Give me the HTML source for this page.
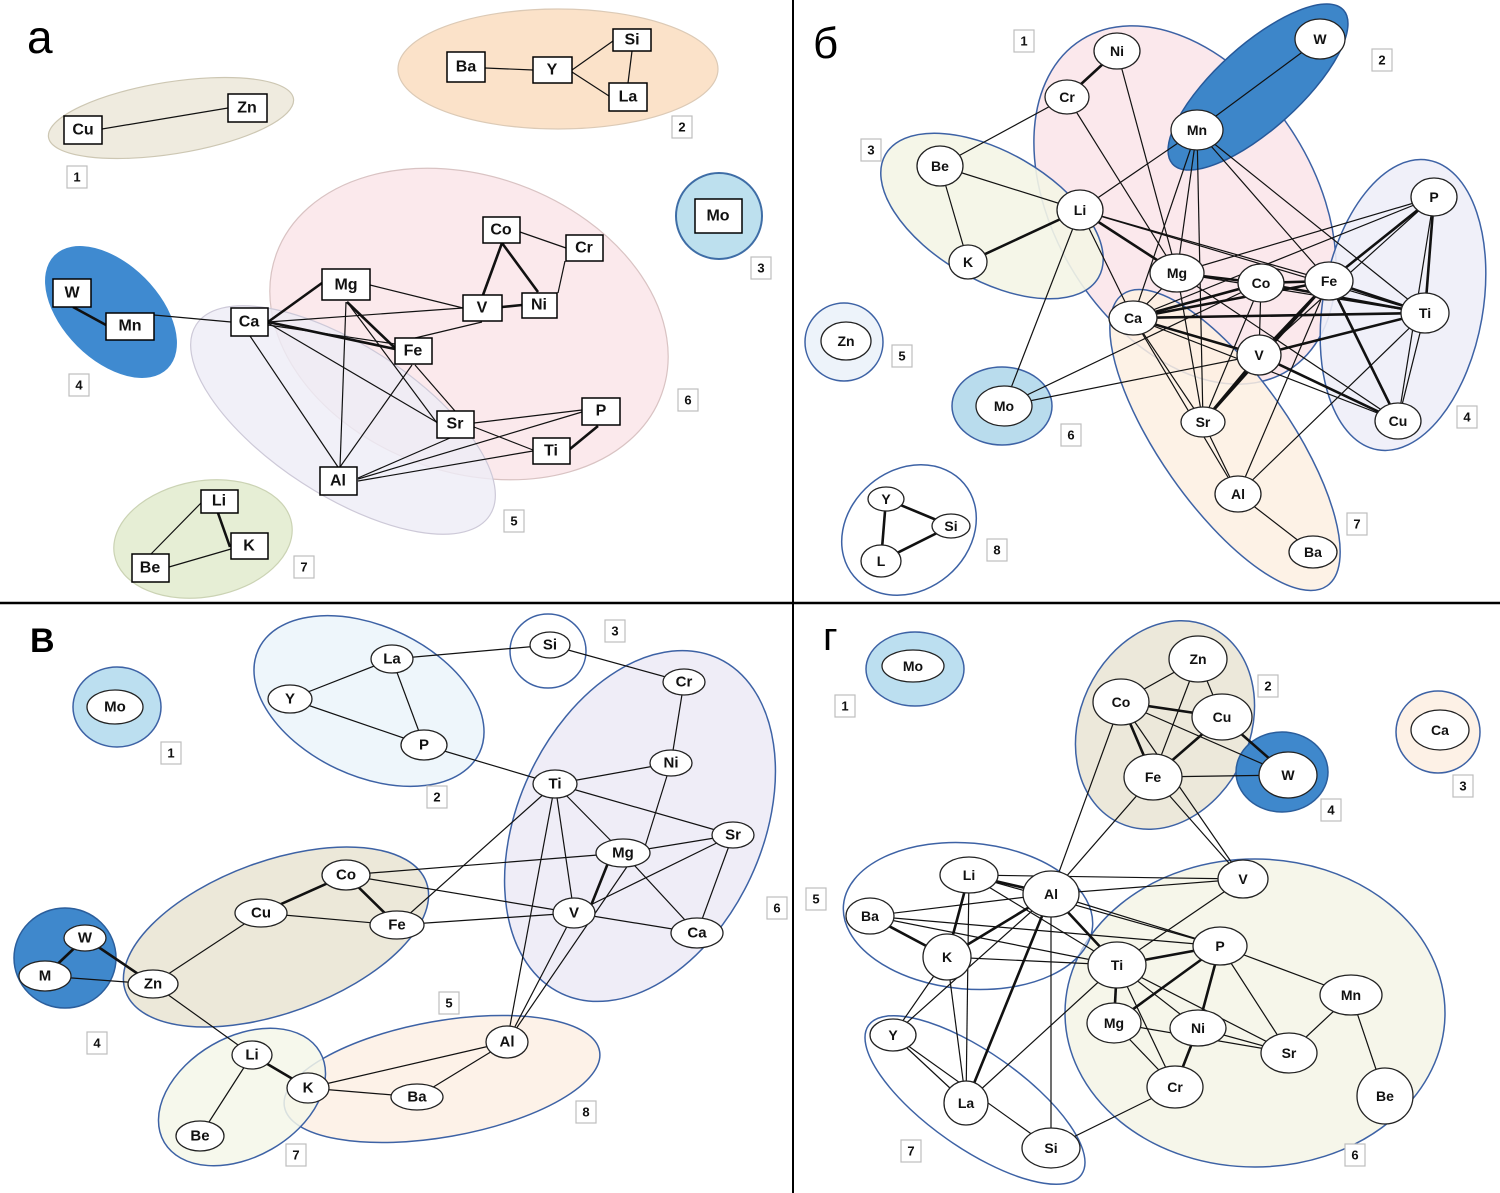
<!DOCTYPE html>
<html><head><meta charset="utf-8">
<style>
html,body{margin:0;padding:0;background:#fff;}
svg{display:block;}
.e{stroke:#111;stroke-width:1.2;fill:none}
.t{stroke:#111;stroke-width:2.6;fill:none}
.b{fill:#fff;stroke:#000;stroke-width:1.5}
.n{fill:#fff;stroke:#222;stroke-width:1.3}
text{font-family:"Liberation Sans",sans-serif;text-anchor:middle;dominant-baseline:central;fill:#111}
.ta{font-size:16px;font-weight:bold}
.tn{font-size:14px;font-weight:bold}
.tv{font-size:15px;font-weight:bold}
.lr{fill:#fff;stroke:#bdbdbd;stroke-width:1.2}
.lt{font-size:13px;font-weight:bold}
.big{text-anchor:start;dominant-baseline:auto;fill:#000}
</style></head>
<body>
<svg width="1500" height="1193" viewBox="0 0 1500 1193" xmlns="http://www.w3.org/2000/svg">
<rect x="0" y="0" width="1500" height="1193" fill="#fff"/>

<!-- ================= QUADRANT а ================= -->
<text class="big" x="27" y="53" font-size="46">а</text>
<ellipse cx="171" cy="118" rx="124" ry="36" transform="rotate(-9 171 118)" fill="#efebdf" stroke="#cdc7b3" stroke-width="1.2"/>
<ellipse cx="558" cy="69" rx="160" ry="60" fill="#fbe2c9" stroke="#dccab6" stroke-width="1.2"/>
<circle cx="719" cy="216" r="43" fill="#bde0ee" stroke="#3e6da6" stroke-width="2"/>
<ellipse cx="469" cy="324" rx="205" ry="148" transform="rotate(20 469 324)" fill="#fbe9ec" stroke="#d9c3c3" stroke-width="1.2"/>
<ellipse cx="343" cy="420" rx="175" ry="75" transform="rotate(33 343 420)" fill="#eeecf6" fill-opacity="0.8" stroke="#cdc9d8" stroke-width="1.2"/>
<ellipse cx="111" cy="312" rx="80" ry="48" transform="rotate(45 111 312)" fill="#3f8ad0"/>
<ellipse cx="203" cy="539" rx="90" ry="58" transform="rotate(-10 203 539)" fill="#e6eed5" stroke="#cbd3b4" stroke-width="1.2"/>

<g>
<line class="e" x1="102" y1="129" x2="228" y2="108"/>
<line class="e" x1="485" y1="68" x2="533" y2="70"/>
<line class="e" x1="572" y1="70" x2="613" y2="41"/>
<line class="e" x1="572" y1="72" x2="609" y2="96"/>
<line class="e" x1="632" y1="51" x2="628" y2="83"/>
<line class="t" x1="73" y1="307" x2="106" y2="325"/>
<line class="e" x1="154" y1="315" x2="231" y2="322"/>
<line class="t" x1="268" y1="322" x2="322" y2="283"/>
<line class="e" x1="268" y1="322" x2="463" y2="308"/>
<line class="t" x1="268" y1="322" x2="395" y2="349"/>
<line class="e" x1="268" y1="325" x2="395" y2="344"/>
<line class="e" x1="268" y1="323" x2="438" y2="423"/>
<line class="e" x1="250" y1="336" x2="338" y2="467"/>
<line class="e" x1="370" y1="285" x2="463" y2="308"/>
<line class="t" x1="347" y1="302" x2="395" y2="348"/>
<line class="e" x1="347" y1="302" x2="437" y2="423"/>
<line class="e" x1="346" y1="302" x2="340" y2="467"/>
<line class="t" x1="502" y1="243" x2="483" y2="295"/>
<line class="t" x1="502" y1="243" x2="538" y2="292"/>
<line class="e" x1="520" y1="232" x2="566" y2="248"/>
<line class="e" x1="565" y1="261" x2="558" y2="293"/>
<line class="t" x1="502" y1="307" x2="522" y2="305"/>
<line class="e" x1="415" y1="338" x2="482" y2="322"/>
<line class="e" x1="415" y1="365" x2="455" y2="411"/>
<line class="e" x1="412" y1="365" x2="340" y2="467"/>
<line class="e" x1="474" y1="423" x2="582" y2="410"/>
<line class="e" x1="474" y1="427" x2="533" y2="450"/>
<line class="t" x1="598" y1="426" x2="570" y2="449"/>
<line class="e" x1="358" y1="478" x2="450" y2="438"/>
<line class="e" x1="358" y1="479" x2="582" y2="412"/>
<line class="e" x1="358" y1="481" x2="533" y2="451"/>
<line class="t" x1="218" y1="513" x2="230" y2="547"/>
<line class="e" x1="201" y1="503" x2="151" y2="554"/>
<line class="e" x1="169" y1="567" x2="231" y2="549"/>
</g>

<g>
<rect class="b" x="64" y="116" width="38" height="28"/><text class="ta" x="83" y="130">Cu</text>
<rect class="b" x="228" y="94" width="39" height="28"/><text class="ta" x="247" y="108">Zn</text>
<rect class="b" x="447" y="52" width="38" height="30"/><text class="ta" x="466" y="67">Ba</text>
<rect class="b" x="533" y="57" width="39" height="26"/><text class="ta" x="552" y="70">Y</text>
<rect class="b" x="613" y="29" width="38" height="22"/><text class="ta" x="632" y="40">Si</text>
<rect class="b" x="609" y="83" width="38" height="28"/><text class="ta" x="628" y="97">La</text>
<rect class="b" x="695" y="199" width="47" height="34"/><text class="ta" x="718" y="216">Mo</text>
<rect class="b" x="483" y="217" width="37" height="26"/><text class="ta" x="501" y="230">Co</text>
<rect class="b" x="566" y="235" width="37" height="26"/><text class="ta" x="584" y="248">Cr</text>
<rect class="b" x="322" y="269" width="48" height="31"/><text class="ta" x="346" y="285">Mg</text>
<rect class="b" x="463" y="295" width="39" height="26"/><text class="ta" x="482" y="308">V</text>
<rect class="b" x="522" y="293" width="35" height="25"/><text class="ta" x="539" y="305">Ni</text>
<rect class="b" x="231" y="308" width="37" height="28"/><text class="ta" x="249" y="322">Ca</text>
<rect class="b" x="395" y="338" width="37" height="26"/><text class="ta" x="413" y="351">Fe</text>
<rect class="b" x="437" y="411" width="37" height="27"/><text class="ta" x="455" y="424">Sr</text>
<rect class="b" x="582" y="398" width="38" height="27"/><text class="ta" x="601" y="411">P</text>
<rect class="b" x="533" y="438" width="37" height="26"/><text class="ta" x="551" y="451">Ti</text>
<rect class="b" x="320" y="467" width="37" height="28"/><text class="ta" x="338" y="481">Al</text>
<rect class="b" x="53" y="279" width="38" height="28"/><text class="ta" x="72" y="293">W</text>
<rect class="b" x="106" y="313" width="48" height="27"/><text class="ta" x="130" y="326">Mn</text>
<rect class="b" x="201" y="490" width="37" height="23"/><text class="ta" x="219" y="501">Li</text>
<rect class="b" x="231" y="533" width="37" height="26"/><text class="ta" x="249" y="546">K</text>
<rect class="b" x="132" y="554" width="37" height="28"/><text class="ta" x="150" y="568">Be</text>
</g>

<g>
<rect class="lr" x="67" y="166" width="20" height="22"/><text class="lt" x="77" y="177">1</text>
<rect class="lr" x="672" y="116" width="20" height="22"/><text class="lt" x="682" y="127">2</text>
<rect class="lr" x="751" y="257" width="20" height="22"/><text class="lt" x="761" y="268">3</text>
<rect class="lr" x="69" y="374" width="20" height="22"/><text class="lt" x="79" y="385">4</text>
<rect class="lr" x="504" y="510" width="20" height="22"/><text class="lt" x="514" y="521">5</text>
<rect class="lr" x="678" y="389" width="20" height="22"/><text class="lt" x="688" y="400">6</text>
<rect class="lr" x="294" y="556" width="20" height="22"/><text class="lt" x="304" y="567">7</text>
</g>

<!-- ================= QUADRANT б ================= -->
<text class="big" x="813" y="58" font-size="44">б</text>
<ellipse cx="1185" cy="205" rx="195" ry="130" transform="rotate(58 1185 205)" fill="#fbe8ec" stroke="#3d62a5" stroke-width="1.5"/>
<ellipse cx="992" cy="216" rx="123" ry="64" transform="rotate(30 992 216)" fill="#f4f5e6" fill-opacity="0.9" stroke="#3d62a5" stroke-width="1.5"/>
<ellipse cx="1403" cy="305" rx="80" ry="147" transform="rotate(10 1403 305)" fill="#eeeef8" fill-opacity="0.9" stroke="#3d62a5" stroke-width="1.5"/>
<ellipse cx="1225" cy="440" rx="178" ry="65" transform="rotate(55 1225 440)" fill="#fdf0e2" fill-opacity="0.85" stroke="#3d62a5" stroke-width="1.5"/>
<ellipse cx="1258" cy="87" rx="115" ry="42" transform="rotate(-42 1258 87)" fill="#3d86c9" stroke="#27599a" stroke-width="1.5"/>
<circle cx="844" cy="342" r="39" fill="#edf3fa" stroke="#3d62a5" stroke-width="1.5"/>
<ellipse cx="1002" cy="406" rx="50" ry="39" fill="#b9dced" stroke="#3d62a5" stroke-width="1.5"/>
<ellipse cx="909" cy="530" rx="72" ry="60" transform="rotate(-40 909 530)" fill="#fff" stroke="#3d62a5" stroke-width="1.5"/>

<g>
<line class="e" x1="1117" y1="51" x2="1177" y2="273"/>
<line class="e" x1="1067" y1="97" x2="1177" y2="273"/>
<line class="e" x1="1067" y1="97" x2="940" y2="166"/>
<line class="e" x1="940" y1="166" x2="1080" y2="210"/>
<line class="e" x1="940" y1="166" x2="968" y2="262"/>
<line class="e" x1="1080" y1="210" x2="1197" y2="130"/>
<line class="e" x1="1080" y1="210" x2="1133" y2="318"/>
<line class="e" x1="1080" y1="210" x2="1425" y2="313"/>
<line class="e" x1="1080" y1="210" x2="1329" y2="281"/>
<line class="e" x1="1080" y1="210" x2="1004" y2="406"/>
<line class="e" x1="1320" y1="39" x2="1197" y2="130"/>
<line class="e" x1="1197" y1="130" x2="1177" y2="273"/>
<line class="e" x1="1197" y1="130" x2="1133" y2="318"/>
<line class="e" x1="1197" y1="130" x2="1203" y2="422"/>
<line class="e" x1="1197" y1="130" x2="1329" y2="281"/>
<line class="e" x1="1197" y1="130" x2="1425" y2="313"/>
<line class="e" x1="1434" y1="197" x2="1177" y2="273"/>
<line class="e" x1="1434" y1="197" x2="1133" y2="318"/>
<line class="e" x1="1434" y1="197" x2="1259" y2="355"/>
<line class="e" x1="1434" y1="197" x2="1398" y2="421"/>
<line class="e" x1="1177" y1="273" x2="1133" y2="318"/>
<line class="e" x1="1177" y1="273" x2="1425" y2="313"/>
<line class="e" x1="1177" y1="273" x2="1398" y2="421"/>
<line class="e" x1="1177" y1="273" x2="1203" y2="422"/>
<line class="e" x1="1261" y1="283" x2="1259" y2="355"/>
<line class="e" x1="1261" y1="283" x2="1203" y2="422"/>
<line class="e" x1="1329" y1="281" x2="1238" y2="494"/>
<line class="e" x1="1133" y1="318" x2="1398" y2="421"/>
<line class="e" x1="1133" y1="318" x2="1238" y2="494"/>
<line class="e" x1="1133" y1="318" x2="1203" y2="422"/>
<line class="e" x1="1203" y1="422" x2="1238" y2="494"/>
<line class="e" x1="1238" y1="494" x2="1313" y2="552"/>
<line class="e" x1="1238" y1="494" x2="1425" y2="313"/>
<line class="e" x1="1425" y1="313" x2="1398" y2="421"/>
<line class="e" x1="1004" y1="406" x2="1261" y2="283"/>
<line class="e" x1="1004" y1="406" x2="1259" y2="355"/>
<line class="t" x1="1117" y1="51" x2="1067" y2="97"/>
<line class="t" x1="968" y1="262" x2="1080" y2="210"/>
<line class="t" x1="1080" y1="210" x2="1177" y2="273"/>
<line class="t" x1="1434" y1="197" x2="1329" y2="281"/>
<line class="t" x1="1434" y1="197" x2="1425" y2="313"/>
<line class="t" x1="1177" y1="273" x2="1261" y2="283"/>
<line class="t" x1="1261" y1="283" x2="1329" y2="281"/>
<line class="t" x1="1261" y1="283" x2="1133" y2="318"/>
<line class="t" x1="1261" y1="283" x2="1425" y2="313"/>
<line class="t" x1="1329" y1="281" x2="1133" y2="318"/>
<line class="t" x1="1329" y1="281" x2="1425" y2="313"/>
<line class="t" x1="1329" y1="281" x2="1259" y2="355"/>
<line class="t" x1="1329" y1="281" x2="1203" y2="422"/>
<line class="t" x1="1329" y1="281" x2="1398" y2="421"/>
<line class="t" x1="1133" y1="318" x2="1425" y2="313"/>
<line class="t" x1="1133" y1="318" x2="1259" y2="355"/>
<line class="t" x1="1259" y1="355" x2="1425" y2="313"/>
<line class="t" x1="1259" y1="355" x2="1398" y2="421"/>
<line class="t" x1="1259" y1="355" x2="1203" y2="422"/>
<line class="t" x1="886" y1="499" x2="951" y2="526"/>
<line class="t" x1="886" y1="499" x2="881" y2="561"/>
<line class="t" x1="881" y1="561" x2="951" y2="526"/>
</g>

<g>
<ellipse class="n" cx="1117" cy="51" rx="23" ry="18"/><text class="tn" x="1117" y="51">Ni</text>
<ellipse class="n" cx="1067" cy="97" rx="22" ry="17"/><text class="tn" x="1067" y="97">Cr</text>
<ellipse class="n" cx="1320" cy="39" rx="25" ry="20"/><text class="tn" x="1320" y="39">W</text>
<ellipse class="n" cx="1197" cy="130" rx="26" ry="20"/><text class="tn" x="1197" y="130">Mn</text>
<ellipse class="n" cx="940" cy="166" rx="23" ry="20"/><text class="tn" x="940" y="166">Be</text>
<ellipse class="n" cx="1080" cy="210" rx="23" ry="20"/><text class="tn" x="1080" y="210">Li</text>
<ellipse class="n" cx="968" cy="262" rx="19" ry="17"/><text class="tn" x="968" y="262">K</text>
<ellipse class="n" cx="1177" cy="273" rx="27" ry="19"/><text class="tn" x="1177" y="273">Mg</text>
<ellipse class="n" cx="1261" cy="283" rx="23" ry="19"/><text class="tn" x="1261" y="283">Co</text>
<ellipse class="n" cx="1329" cy="281" rx="24" ry="19"/><text class="tn" x="1329" y="281">Fe</text>
<ellipse class="n" cx="1434" cy="197" rx="23" ry="19"/><text class="tn" x="1434" y="197">P</text>
<ellipse class="n" cx="1425" cy="313" rx="24" ry="20"/><text class="tn" x="1425" y="313">Ti</text>
<ellipse class="n" cx="1133" cy="318" rx="24" ry="17"/><text class="tn" x="1133" y="318">Ca</text>
<ellipse class="n" cx="1259" cy="355" rx="22" ry="20"/><text class="tn" x="1259" y="355">V</text>
<ellipse class="n" cx="1203" cy="422" rx="22" ry="15"/><text class="tn" x="1203" y="422">Sr</text>
<ellipse class="n" cx="1398" cy="421" rx="23" ry="18"/><text class="tn" x="1398" y="421">Cu</text>
<ellipse class="n" cx="1238" cy="494" rx="23" ry="18"/><text class="tn" x="1238" y="494">Al</text>
<ellipse class="n" cx="1313" cy="552" rx="24" ry="16"/><text class="tn" x="1313" y="552">Ba</text>
<ellipse class="n" cx="846" cy="341" rx="25" ry="19"/><text class="tn" x="846" y="341">Zn</text>
<ellipse class="n" cx="1004" cy="406" rx="28" ry="20"/><text class="tn" x="1004" y="406">Mo</text>
<ellipse class="n" cx="886" cy="499" rx="18" ry="12"/><text class="tn" x="886" y="499">Y</text>
<ellipse class="n" cx="951" cy="526" rx="19" ry="12"/><text class="tn" x="951" y="526">Si</text>
<ellipse class="n" cx="881" cy="561" rx="20" ry="16"/><text class="tn" x="881" y="561">L</text>
</g>

<g>
<rect class="lr" x="1014" y="30" width="20" height="22"/><text class="lt" x="1024" y="41">1</text>
<rect class="lr" x="1372" y="49" width="20" height="22"/><text class="lt" x="1382" y="60">2</text>
<rect class="lr" x="861" y="139" width="20" height="22"/><text class="lt" x="871" y="150">3</text>
<rect class="lr" x="1457" y="406" width="20" height="22"/><text class="lt" x="1467" y="417">4</text>
<rect class="lr" x="892" y="345" width="20" height="22"/><text class="lt" x="902" y="356">5</text>
<rect class="lr" x="1061" y="424" width="20" height="22"/><text class="lt" x="1071" y="435">6</text>
<rect class="lr" x="1347" y="513" width="20" height="22"/><text class="lt" x="1357" y="524">7</text>
<rect class="lr" x="987" y="539" width="20" height="22"/><text class="lt" x="997" y="550">8</text>
</g>

<!-- ================= QUADRANT в ================= -->
<text class="big" x="30" y="652" font-size="34" font-weight="bold">В</text>
<ellipse cx="117" cy="707" rx="44" ry="40" fill="#bcdff0" stroke="#3d62a5" stroke-width="1.5"/>
<ellipse cx="369" cy="701" rx="122" ry="75" transform="rotate(25 369 701)" fill="#eef6fb" stroke="#3d62a5" stroke-width="1.5"/>
<ellipse cx="548" cy="651" rx="38" ry="37" fill="#fff" stroke="#3d62a5" stroke-width="1.5"/>
<ellipse cx="640" cy="826" rx="122" ry="185" transform="rotate(25 640 826)" fill="#efedf7" stroke="#3d62a5" stroke-width="1.5"/>
<ellipse cx="276" cy="937" rx="160" ry="76" transform="rotate(-20 276 937)" fill="#ece8d9" stroke="#3d62a5" stroke-width="1.5"/>
<ellipse cx="65" cy="958" rx="51" ry="50" fill="#3f88cc" stroke="#2b5e9c" stroke-width="1.5"/>
<ellipse cx="442" cy="1079" rx="160" ry="58" transform="rotate(-10 442 1079)" fill="#fdf2e8" stroke="#3d62a5" stroke-width="1.5"/>
<ellipse cx="242" cy="1097" rx="90" ry="60" transform="rotate(-30 242 1097)" fill="#f5f7e9" fill-opacity="0.85" stroke="#3d62a5" stroke-width="1.5"/>

<g>
<line class="e" x1="392" y1="659" x2="550" y2="645"/>
<line class="e" x1="392" y1="659" x2="290" y2="699"/>
<line class="e" x1="392" y1="659" x2="424" y2="745"/>
<line class="e" x1="290" y1="699" x2="424" y2="745"/>
<line class="e" x1="424" y1="745" x2="555" y2="784"/>
<line class="e" x1="550" y1="645" x2="684" y2="682"/>
<line class="e" x1="684" y1="682" x2="671" y2="763"/>
<line class="e" x1="671" y1="763" x2="555" y2="784"/>
<line class="e" x1="671" y1="763" x2="643" y2="853"/>
<line class="e" x1="555" y1="784" x2="733" y2="835"/>
<line class="e" x1="555" y1="784" x2="623" y2="853"/>
<line class="e" x1="555" y1="784" x2="574" y2="913"/>
<line class="e" x1="555" y1="784" x2="507" y2="1042"/>
<line class="e" x1="555" y1="784" x2="397" y2="925"/>
<line class="e" x1="623" y1="853" x2="733" y2="835"/>
<line class="e" x1="623" y1="853" x2="697" y2="933"/>
<line class="e" x1="635" y1="855" x2="507" y2="1042"/>
<line class="e" x1="733" y1="835" x2="574" y2="913"/>
<line class="e" x1="733" y1="835" x2="697" y2="933"/>
<line class="e" x1="574" y1="913" x2="697" y2="933"/>
<line class="e" x1="574" y1="913" x2="507" y2="1042"/>
<line class="e" x1="346" y1="875" x2="623" y2="853"/>
<line class="e" x1="346" y1="875" x2="574" y2="913"/>
<line class="e" x1="397" y1="925" x2="574" y2="913"/>
<line class="e" x1="261" y1="913" x2="397" y2="925"/>
<line class="e" x1="261" y1="913" x2="153" y2="984"/>
<line class="e" x1="45" y1="976" x2="153" y2="984"/>
<line class="e" x1="153" y1="984" x2="252" y2="1055"/>
<line class="e" x1="252" y1="1055" x2="200" y2="1136"/>
<line class="e" x1="308" y1="1088" x2="417" y2="1097"/>
<line class="e" x1="308" y1="1088" x2="507" y2="1042"/>
<line class="e" x1="417" y1="1097" x2="507" y2="1042"/>
<line class="t" x1="612" y1="853" x2="588" y2="913"/>
<line class="t" x1="346" y1="875" x2="261" y2="913"/>
<line class="t" x1="346" y1="875" x2="397" y2="925"/>
<line class="t" x1="85" y1="938" x2="153" y2="984"/>
<line class="t" x1="85" y1="938" x2="45" y2="976"/>
<line class="t" x1="252" y1="1055" x2="308" y2="1088"/>
</g>

<g>
<ellipse class="n" cx="115" cy="707" rx="28" ry="17"/><text class="tv" x="115" y="707">Mo</text>
<ellipse class="n" cx="392" cy="659" rx="21" ry="14"/><text class="tv" x="392" y="659">La</text>
<ellipse class="n" cx="290" cy="699" rx="22" ry="14"/><text class="tv" x="290" y="699">Y</text>
<ellipse class="n" cx="424" cy="745" rx="23" ry="15"/><text class="tv" x="424" y="745">P</text>
<ellipse class="n" cx="550" cy="645" rx="20" ry="13"/><text class="tv" x="550" y="645">Si</text>
<ellipse class="n" cx="684" cy="682" rx="21" ry="13"/><text class="tv" x="684" y="682">Cr</text>
<ellipse class="n" cx="671" cy="763" rx="21" ry="13"/><text class="tv" x="671" y="763">Ni</text>
<ellipse class="n" cx="555" cy="784" rx="22" ry="14"/><text class="tv" x="555" y="784">Ti</text>
<ellipse class="n" cx="623" cy="853" rx="27" ry="14"/><text class="tv" x="623" y="853">Mg</text>
<ellipse class="n" cx="733" cy="835" rx="21" ry="13"/><text class="tv" x="733" y="835">Sr</text>
<ellipse class="n" cx="574" cy="913" rx="21" ry="15"/><text class="tv" x="574" y="913">V</text>
<ellipse class="n" cx="697" cy="933" rx="26" ry="15"/><text class="tv" x="697" y="933">Ca</text>
<ellipse class="n" cx="346" cy="875" rx="24" ry="15"/><text class="tv" x="346" y="875">Co</text>
<ellipse class="n" cx="261" cy="913" rx="26" ry="14"/><text class="tv" x="261" y="913">Cu</text>
<ellipse class="n" cx="397" cy="925" rx="27" ry="14"/><text class="tv" x="397" y="925">Fe</text>
<ellipse class="n" cx="85" cy="938" rx="21" ry="13"/><text class="tv" x="85" y="938">W</text>
<ellipse class="n" cx="45" cy="976" rx="26" ry="15"/><text class="tv" x="45" y="976">M</text>
<ellipse class="n" cx="153" cy="984" rx="25" ry="14"/><text class="tv" x="153" y="984">Zn</text>
<ellipse class="n" cx="252" cy="1055" rx="20" ry="14"/><text class="tv" x="252" y="1055">Li</text>
<ellipse class="n" cx="308" cy="1088" rx="21" ry="15"/><text class="tv" x="308" y="1088">K</text>
<ellipse class="n" cx="417" cy="1097" rx="26" ry="13"/><text class="tv" x="417" y="1097">Ba</text>
<ellipse class="n" cx="507" cy="1042" rx="21" ry="16"/><text class="tv" x="507" y="1042">Al</text>
<ellipse class="n" cx="200" cy="1136" rx="24" ry="15"/><text class="tv" x="200" y="1136">Be</text>
</g>

<g>
<rect class="lr" x="161" y="742" width="20" height="22"/><text class="lt" x="171" y="753">1</text>
<rect class="lr" x="427" y="786" width="20" height="22"/><text class="lt" x="437" y="797">2</text>
<rect class="lr" x="605" y="620" width="20" height="22"/><text class="lt" x="615" y="631">3</text>
<rect class="lr" x="87" y="1032" width="20" height="22"/><text class="lt" x="97" y="1043">4</text>
<rect class="lr" x="439" y="992" width="20" height="22"/><text class="lt" x="449" y="1003">5</text>
<rect class="lr" x="767" y="897" width="20" height="22"/><text class="lt" x="777" y="908">6</text>
<rect class="lr" x="286" y="1144" width="20" height="22"/><text class="lt" x="296" y="1155">7</text>
<rect class="lr" x="576" y="1101" width="20" height="22"/><text class="lt" x="586" y="1112">8</text>
</g>

<!-- ================= QUADRANT г ================= -->
<text class="big" x="823" y="650" font-size="40">г</text>
<ellipse cx="915" cy="669" rx="49" ry="37" fill="#bcdff0" stroke="#3d62a5" stroke-width="1.5"/>
<ellipse cx="1165" cy="725" rx="85" ry="108" transform="rotate(25 1165 725)" fill="#ece8da" stroke="#3d62a5" stroke-width="1.5"/>
<ellipse cx="1282" cy="772" rx="46" ry="40" fill="#3f88cc" stroke="#2b5e9c" stroke-width="1.5"/>
<ellipse cx="1438" cy="732" rx="42" ry="41" fill="#fdf1e6" stroke="#3d62a5" stroke-width="1.5"/>
<ellipse cx="1255" cy="1013" rx="190" ry="154" fill="#f6f6ea" stroke="#3d62a5" stroke-width="1.5"/>
<ellipse cx="968" cy="916" rx="125" ry="73" transform="rotate(5 968 916)" fill="#fff" fill-opacity="0.6" stroke="#3d62a5" stroke-width="1.5"/>
<ellipse cx="975" cy="1100" rx="130" ry="48" transform="rotate(35 975 1100)" fill="#fff" fill-opacity="0.6" stroke="#3d62a5" stroke-width="1.5"/>

<g>
<line class="e" x1="1198" y1="659" x2="1121" y2="702"/>
<line class="e" x1="1198" y1="659" x2="1222" y2="717"/>
<line class="e" x1="1198" y1="659" x2="1153" y2="777"/>
<line class="e" x1="1121" y1="702" x2="1288" y2="775"/>
<line class="e" x1="1121" y1="702" x2="1243" y2="879"/>
<line class="e" x1="1153" y1="777" x2="1288" y2="775"/>
<line class="e" x1="1153" y1="777" x2="1243" y2="879"/>
<line class="e" x1="1121" y1="702" x2="1051" y2="894"/>
<line class="e" x1="1153" y1="777" x2="1051" y2="894"/>
<line class="e" x1="969" y1="875" x2="1243" y2="879"/>
<line class="e" x1="969" y1="875" x2="966" y2="1103"/>
<line class="e" x1="969" y1="875" x2="1117" y2="965"/>
<line class="e" x1="969" y1="875" x2="1220" y2="946"/>
<line class="e" x1="870" y1="916" x2="1051" y2="894"/>
<line class="e" x1="870" y1="916" x2="1117" y2="965"/>
<line class="e" x1="870" y1="916" x2="1220" y2="946"/>
<line class="e" x1="947" y1="957" x2="1117" y2="965"/>
<line class="e" x1="947" y1="957" x2="966" y2="1103"/>
<line class="e" x1="947" y1="957" x2="893" y2="1035"/>
<line class="e" x1="1051" y1="894" x2="1243" y2="879"/>
<line class="e" x1="1051" y1="894" x2="893" y2="1035"/>
<line class="e" x1="1051" y1="894" x2="1051" y2="1148"/>
<line class="e" x1="1051" y1="894" x2="1220" y2="946"/>
<line class="e" x1="893" y1="1035" x2="966" y2="1103"/>
<line class="e" x1="893" y1="1035" x2="1051" y2="1148"/>
<line class="e" x1="966" y1="1103" x2="1117" y2="965"/>
<line class="e" x1="1175" y1="1087" x2="1051" y2="1148"/>
<line class="e" x1="1117" y1="965" x2="1198" y2="1028"/>
<line class="e" x1="1117" y1="965" x2="1175" y2="1087"/>
<line class="e" x1="1117" y1="965" x2="1289" y2="1053"/>
<line class="e" x1="1117" y1="965" x2="1243" y2="879"/>
<line class="e" x1="1220" y1="946" x2="1289" y2="1053"/>
<line class="e" x1="1220" y1="946" x2="1351" y2="995"/>
<line class="e" x1="1114" y1="1023" x2="1175" y2="1087"/>
<line class="e" x1="1114" y1="1023" x2="1289" y2="1053"/>
<line class="e" x1="1198" y1="1028" x2="1289" y2="1053"/>
<line class="e" x1="1351" y1="995" x2="1289" y2="1053"/>
<line class="e" x1="1351" y1="995" x2="1385" y2="1096"/>
<line class="t" x1="1121" y1="702" x2="1222" y2="717"/>
<line class="t" x1="1222" y1="717" x2="1153" y2="777"/>
<line class="t" x1="1121" y1="702" x2="1153" y2="777"/>
<line class="t" x1="1222" y1="717" x2="1288" y2="775"/>
<line class="t" x1="969" y1="875" x2="1051" y2="894"/>
<line class="t" x1="969" y1="875" x2="947" y2="957"/>
<line class="t" x1="870" y1="916" x2="947" y2="957"/>
<line class="t" x1="947" y1="957" x2="1051" y2="894"/>
<line class="t" x1="1051" y1="894" x2="1117" y2="965"/>
<line class="t" x1="1051" y1="894" x2="966" y2="1103"/>
<line class="t" x1="1117" y1="965" x2="1114" y2="1023"/>
<line class="t" x1="1117" y1="965" x2="1220" y2="946"/>
<line class="t" x1="1220" y1="946" x2="1114" y2="1023"/>
<line class="t" x1="1220" y1="946" x2="1198" y2="1028"/>
<line class="t" x1="1198" y1="1028" x2="1175" y2="1087"/>
</g>

<g>
<ellipse class="n" cx="913" cy="666" rx="31" ry="16"/><text class="tn" x="913" y="666">Mo</text>
<ellipse class="n" cx="1198" cy="659" rx="29" ry="23"/><text class="tn" x="1198" y="659">Zn</text>
<ellipse class="n" cx="1121" cy="702" rx="28" ry="23"/><text class="tn" x="1121" y="702">Co</text>
<ellipse class="n" cx="1222" cy="717" rx="30" ry="23"/><text class="tn" x="1222" y="717">Cu</text>
<ellipse class="n" cx="1153" cy="777" rx="29" ry="23"/><text class="tn" x="1153" y="777">Fe</text>
<ellipse class="n" cx="1288" cy="775" rx="29" ry="23"/><text class="tn" x="1288" y="775">W</text>
<ellipse class="n" cx="1440" cy="730" rx="29" ry="20"/><text class="tn" x="1440" y="730">Ca</text>
<ellipse class="n" cx="1243" cy="879" rx="25" ry="19"/><text class="tn" x="1243" y="879">V</text>
<ellipse class="n" cx="969" cy="875" rx="29" ry="18"/><text class="tn" x="969" y="875">Li</text>
<ellipse class="n" cx="1051" cy="894" rx="28" ry="23"/><text class="tn" x="1051" y="894">Al</text>
<ellipse class="n" cx="870" cy="916" rx="24" ry="18"/><text class="tn" x="870" y="916">Ba</text>
<ellipse class="n" cx="947" cy="957" rx="24" ry="23"/><text class="tn" x="947" y="957">K</text>
<ellipse class="n" cx="1117" cy="965" rx="29" ry="23"/><text class="tn" x="1117" y="965">Ti</text>
<ellipse class="n" cx="1220" cy="946" rx="27" ry="19"/><text class="tn" x="1220" y="946">P</text>
<ellipse class="n" cx="893" cy="1035" rx="23" ry="16"/><text class="tn" x="893" y="1035">Y</text>
<ellipse class="n" cx="1114" cy="1023" rx="27" ry="20"/><text class="tn" x="1114" y="1023">Mg</text>
<ellipse class="n" cx="1198" cy="1028" rx="28" ry="18"/><text class="tn" x="1198" y="1028">Ni</text>
<ellipse class="n" cx="966" cy="1103" rx="22" ry="22"/><text class="tn" x="966" y="1103">La</text>
<ellipse class="n" cx="1175" cy="1087" rx="28" ry="21"/><text class="tn" x="1175" y="1087">Cr</text>
<ellipse class="n" cx="1051" cy="1148" rx="29" ry="20"/><text class="tn" x="1051" y="1148">Si</text>
<ellipse class="n" cx="1351" cy="995" rx="31" ry="20"/><text class="tn" x="1351" y="995">Mn</text>
<ellipse class="n" cx="1289" cy="1053" rx="28" ry="20"/><text class="tn" x="1289" y="1053">Sr</text>
<ellipse class="n" cx="1385" cy="1096" rx="28" ry="28"/><text class="tn" x="1385" y="1096">Be</text>
</g>

<g>
<rect class="lr" x="835" y="695" width="20" height="22"/><text class="lt" x="845" y="706">1</text>
<rect class="lr" x="1258" y="675" width="20" height="22"/><text class="lt" x="1268" y="686">2</text>
<rect class="lr" x="1453" y="775" width="20" height="22"/><text class="lt" x="1463" y="786">3</text>
<rect class="lr" x="1321" y="799" width="20" height="22"/><text class="lt" x="1331" y="810">4</text>
<rect class="lr" x="806" y="888" width="20" height="22"/><text class="lt" x="816" y="899">5</text>
<rect class="lr" x="1345" y="1144" width="20" height="22"/><text class="lt" x="1355" y="1155">6</text>
<rect class="lr" x="901" y="1140" width="20" height="22"/><text class="lt" x="911" y="1151">7</text>
</g>

<!-- dividers -->
<line x1="793" y1="0" x2="793" y2="1193" stroke="#000" stroke-width="2"/>
<line x1="0" y1="603" x2="1500" y2="603" stroke="#000" stroke-width="2.5"/>
</svg>
</body></html>
